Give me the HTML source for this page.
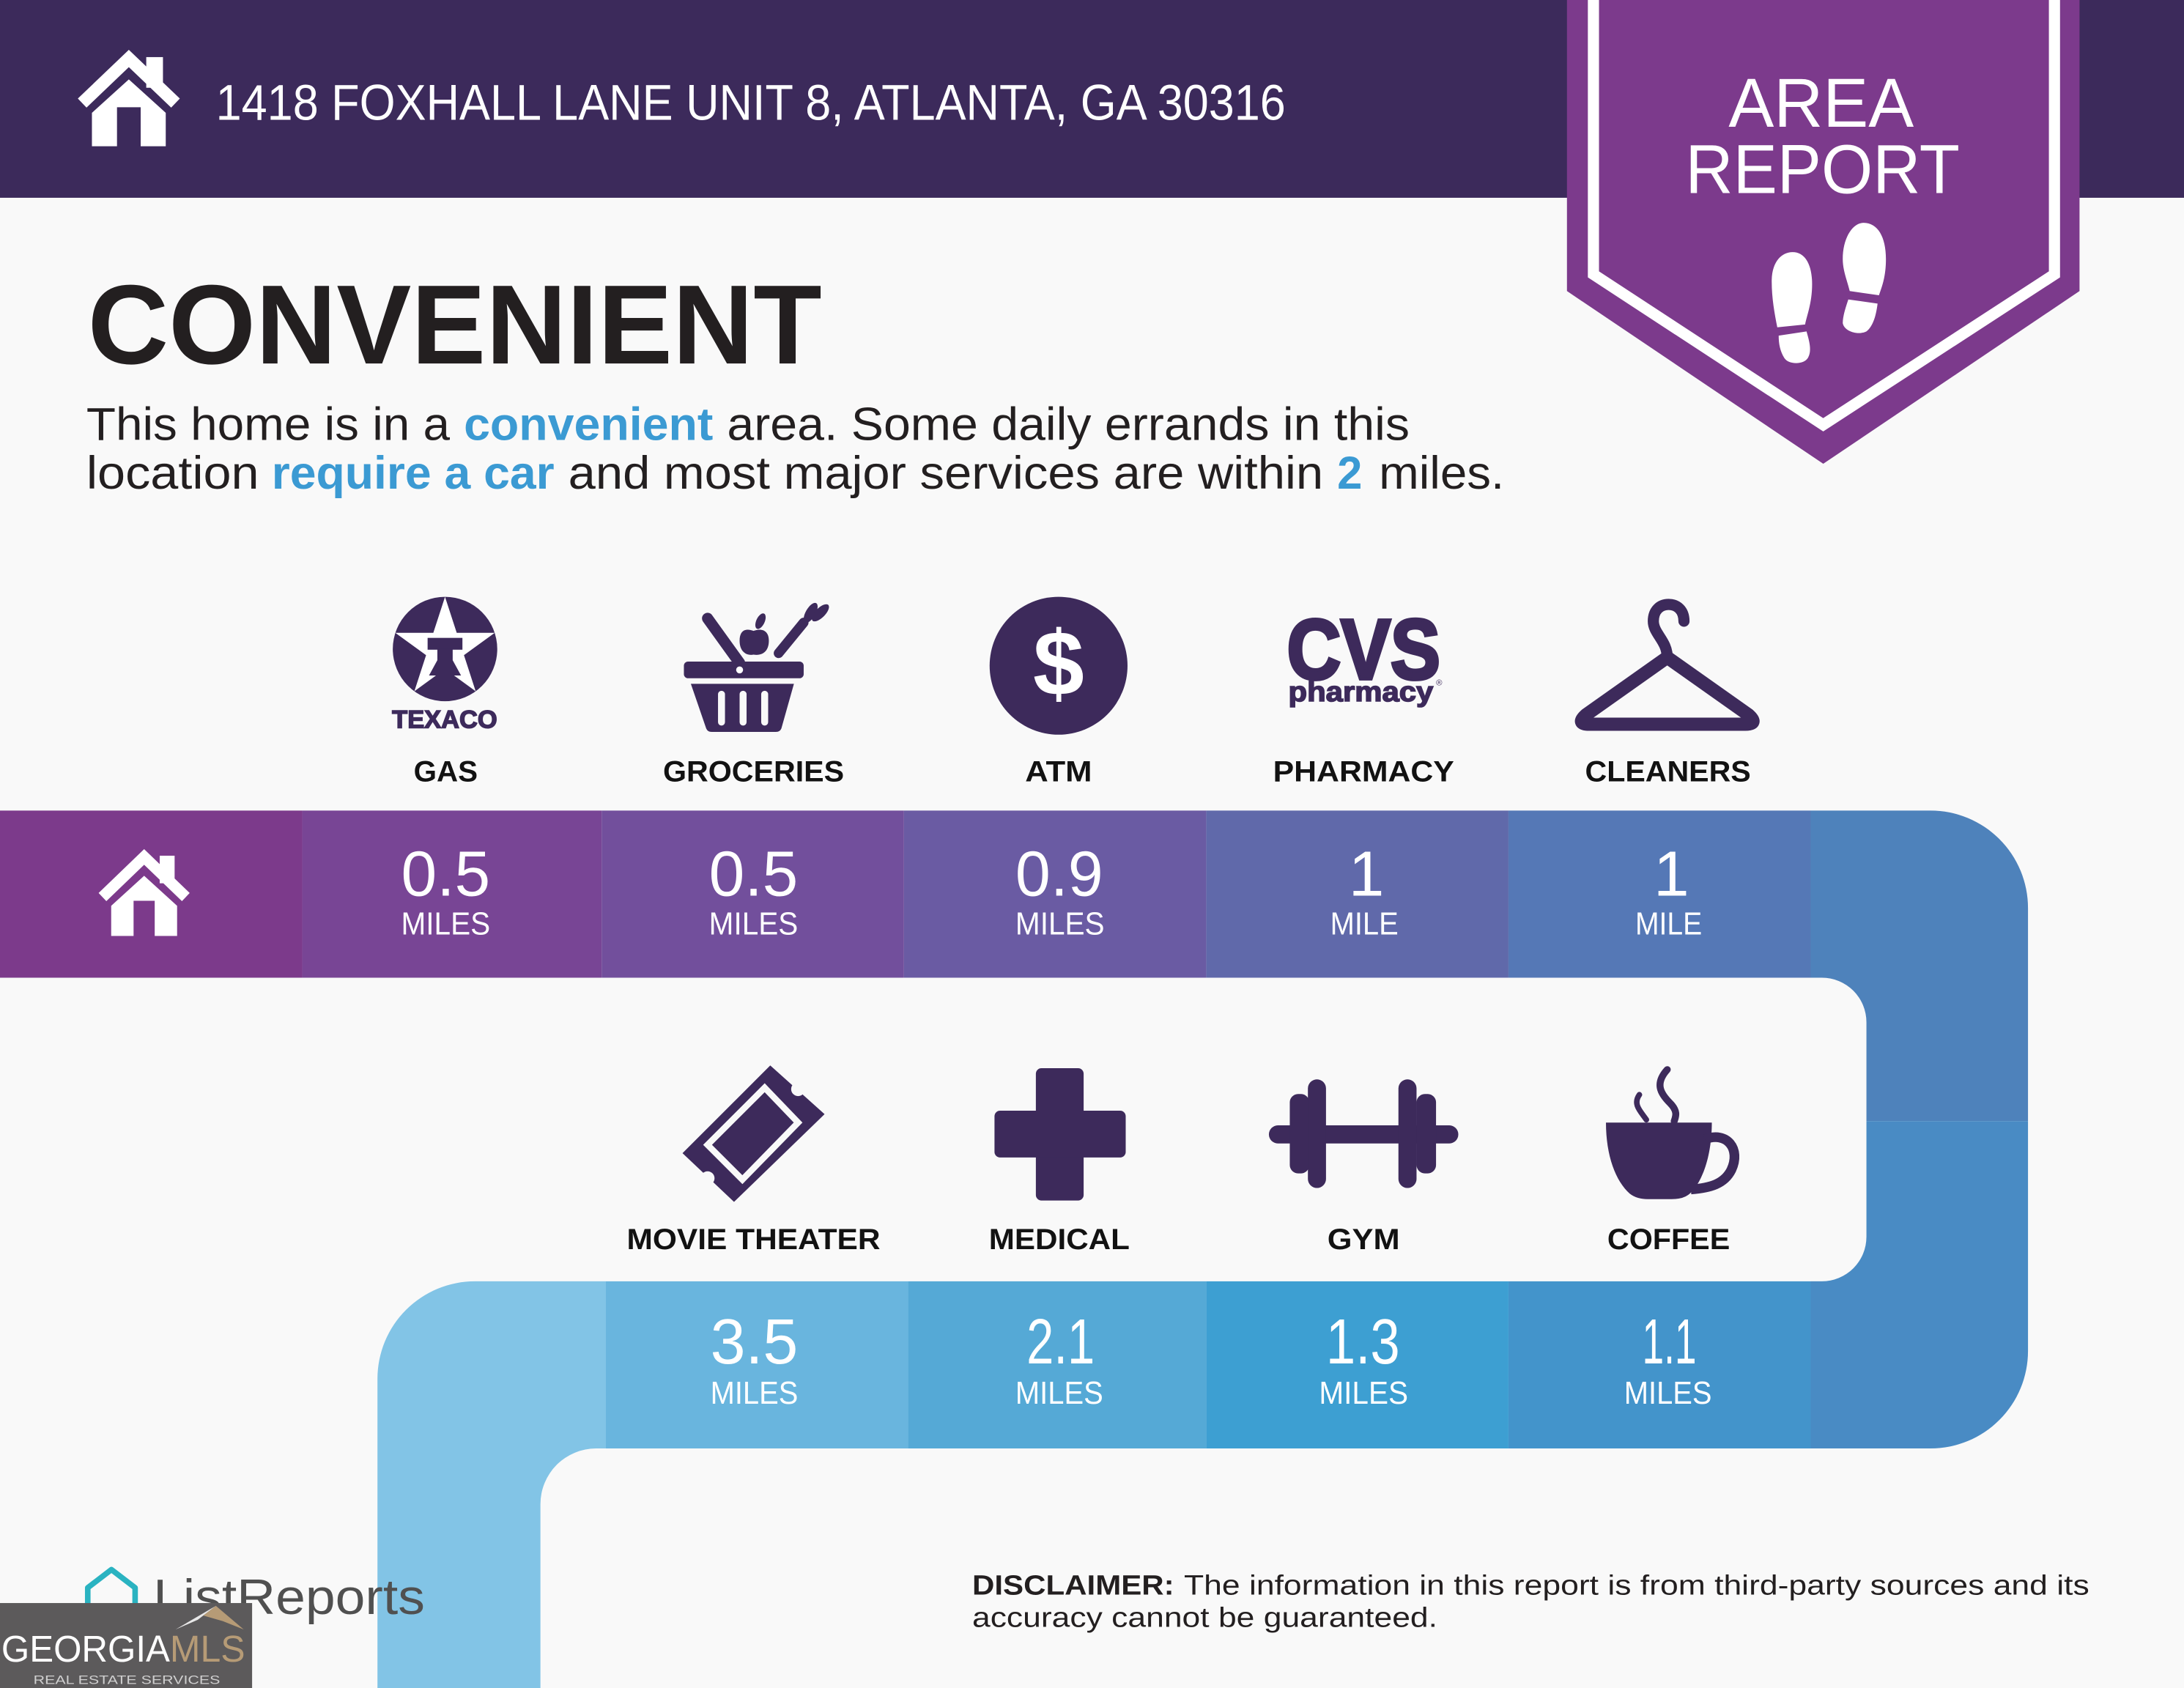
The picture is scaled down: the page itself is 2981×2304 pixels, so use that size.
<!DOCTYPE html>
<html><head><meta charset="utf-8"><style>
html,body{margin:0;padding:0;background:#f9f9f9;overflow:hidden;}
svg{display:block}
</style></head><body>
<svg xmlns="http://www.w3.org/2000/svg" width="2981" height="2304" viewBox="0 0 1568 1212" preserveAspectRatio="none" font-family="'Liberation Sans', sans-serif">
<defs>
<g id="house" fill="#fff">
<rect x="50" y="6" width="12" height="22"/>
<polyline points="4,39 37.5,7 71,39" fill="none" stroke="#fff" stroke-width="9"/>
<path d="M11,46 L37.5,22 L64,46 L64,70 L46,70 L46,42 L29,42 L29,70 L11,70 Z"/>
</g>
</defs>
<rect width="1568" height="1212" fill="#f9f9f9"/>
<!-- header -->
<rect width="1568" height="142" fill="#3c2a5b"/>
<use href="#house" transform="translate(55,35)"/>
<text x="155" y="86" font-size="36" fill="#fff" textLength="768" lengthAdjust="spacingAndGlyphs">1418 FOXHALL LANE UNIT 8, ATLANTA, GA 30316</text>

<!-- ribbon -->
<polygon points="1125,0 1493,0 1493,209 1309,333 1125,209" fill="#7c3a8c"/>
<polyline points="1144,-5 1144,197 1309,305 1475,197 1475,-5" fill="none" stroke="#fff" stroke-width="8"/>
<text x="1241" y="91" font-size="50" fill="#fff" textLength="133" lengthAdjust="spacingAndGlyphs">AREA</text>
<text x="1210" y="138.5" font-size="50" fill="#fff" textLength="197" lengthAdjust="spacingAndGlyphs">REPORT</text>
<g fill="#fff">
<path d="M1272,202 C1272,188 1279,181 1287,181 C1296,181 1301,190 1301,204 C1301,218 1297,227 1296,233 L1276,235 C1274,225 1272,214 1272,202 Z"/>
<path d="M1277,241 L1297,238 C1299,245 1301,252 1298,257 C1295,262 1284,262 1281,257 C1278,252 1277,247 1277,241 Z"/>
<path d="M1323,186 C1323,171 1330,160 1338,160 C1348,160 1354,170 1354,186 C1354,199 1351,206 1349,212 L1328,209 C1326,201 1323,194 1323,186 Z"/>
<path d="M1327,215 L1348,218 C1347,226 1345,234 1340,238 C1334,241 1324,238 1323,232 C1323,227 1325,221 1327,215 Z"/>
</g>

<!-- title & paragraph -->
<text x="63" y="261" font-size="81" font-weight="bold" fill="#231f20" textLength="527" lengthAdjust="spacingAndGlyphs">CONVENIENT</text>
<g font-size="33" fill="#231f20">
<text x="62" y="316" textLength="261" lengthAdjust="spacingAndGlyphs">This home is in a</text>
<text x="333" y="316" fill="#3b9ad3" font-weight="bold" textLength="179" lengthAdjust="spacingAndGlyphs">convenient</text>
<text x="522" y="316" textLength="490" lengthAdjust="spacingAndGlyphs">area. Some daily errands in this</text>
<text x="62" y="351" textLength="124" lengthAdjust="spacingAndGlyphs">location</text>
<text x="195" y="351" fill="#3b9ad3" font-weight="bold" textLength="203" lengthAdjust="spacingAndGlyphs">require a car</text>
<text x="408" y="351" textLength="542" lengthAdjust="spacingAndGlyphs">and most major services are within</text>
<text x="960" y="351" fill="#3b9ad3" font-weight="bold" textLength="18" lengthAdjust="spacingAndGlyphs">2</text>
<text x="990" y="351" textLength="90" lengthAdjust="spacingAndGlyphs">miles.</text>
</g>

<!-- row 1 icons -->
<g fill="#3d2a5b">
<circle cx="319.5" cy="466" r="37.5"/>
<polygon fill="#fff" points="319.5,428.5 327.9,454.4 355.2,454.4 333.1,470.4 341.5,496.3 319.5,480.3 297.5,496.3 305.9,470.4 283.8,454.4 311.1,454.4"/>
<rect x="307" y="458" width="25" height="8.5"/>
<polygon points="314,466 325,466 325,474 331,485 308,485 314,474"/>
<text x="281.5" y="522.5" font-size="18" font-weight="bold" stroke="#3d2a5b" stroke-width="0.8" textLength="75.5" lengthAdjust="spacingAndGlyphs">TEXACO</text>

<!-- groceries -->
<line x1="508" y1="444" x2="531" y2="476" stroke="#3d2a5b" stroke-width="8" stroke-linecap="round"/>
<path d="M531,460 C531,452 536,451 541,453 C546,451 552,452 552,460 C552,468 547,471 541,470 C536,471 531,468 531,460 Z"/>
<ellipse cx="546" cy="446" rx="3" ry="6" transform="rotate(25 546 446)"/>
<line x1="559" y1="469" x2="577" y2="447" stroke="#3d2a5b" stroke-width="7" stroke-linecap="round"/>
<ellipse cx="582" cy="440" rx="3.5" ry="8" transform="rotate(30 582 440)"/>
<ellipse cx="589" cy="440" rx="3.5" ry="8" transform="rotate(45 589 440)"/>
<rect x="491" y="475" width="86" height="12" rx="3"/>
<circle cx="531" cy="481" r="2.5" fill="#fff"/>
<path d="M496,491 L570,491 L561,523 Q560,525.5 557,525.5 L511,525.5 Q508,525.5 507,523 Z"/>
<g fill="#f9f9f9">
<rect x="515.5" y="496" width="5" height="25" rx="2.5"/>
<rect x="531" y="496" width="5" height="25" rx="2.5"/>
<rect x="546.5" y="496" width="5" height="25" rx="2.5"/>
</g>

<!-- ATM -->
<circle cx="760" cy="478" r="49.5"/>
<text x="760" y="499" font-size="66" font-weight="bold" fill="#fff" text-anchor="middle">$</text>

<!-- CVS -->
<text x="924" y="487.5" font-size="61" font-weight="bold" stroke="#3d2a5b" stroke-width="2.5" textLength="110" lengthAdjust="spacingAndGlyphs">CVS</text>
<text x="925" y="503.5" font-size="20" font-weight="bold" stroke="#3d2a5b" stroke-width="0.8" textLength="104" lengthAdjust="spacingAndGlyphs">pharmacy</text>
<text x="1031" y="492" font-size="6">®</text>

<!-- hanger -->
<path d="M1197,472 C1197,460 1187,455 1187,446 C1187,438 1192,434 1198,434 C1204,434 1209,438 1209,446" fill="none" stroke="#3d2a5b" stroke-width="8" stroke-linecap="round"/>
<path d="M1197,472 L1139,513 Q1131,520 1141,520 L1253,520 Q1263,520 1255,513 Z" fill="none" stroke="#3d2a5b" stroke-width="9.5" stroke-linejoin="round"/>
</g>

<!-- row 1 labels -->
<g font-size="21" font-weight="bold" fill="#121212">
<text x="297" y="561" textLength="46" lengthAdjust="spacingAndGlyphs">GAS</text>
<text x="476" y="561" textLength="130" lengthAdjust="spacingAndGlyphs">GROCERIES</text>
<text x="736" y="561" textLength="48" lengthAdjust="spacingAndGlyphs">ATM</text>
<text x="914" y="561" textLength="130" lengthAdjust="spacingAndGlyphs">PHARMACY</text>
<text x="1138" y="561" textLength="119" lengthAdjust="spacingAndGlyphs">CLEANERS</text>
</g>

<!-- bands row 1 -->
<rect x="0" y="582" width="217" height="120" fill="#7c3a8b"/>
<rect x="217" y="582" width="215" height="120" fill="#784595"/>
<rect x="432" y="582" width="217" height="120" fill="#724f9c"/>
<rect x="649" y="582" width="217" height="120" fill="#6a5ba3"/>
<rect x="866" y="582" width="217" height="120" fill="#6069aa"/>
<rect x="1083" y="582" width="217" height="120" fill="#5578b6"/>
<path d="M1300,582 L1386,582 A70,70 0 0 1 1456,652 L1456,805 L1340,805 L1340,734 A32,32 0 0 0 1308,702 L1300,702 Z" fill="#4e82bb"/>
<path d="M1340,805 L1456,805 L1456,970 A70,70 0 0 1 1386,1040 L1300,1040 L1300,920 L1308,920 A32,32 0 0 0 1340,888 Z" fill="#498bc4"/>
<!-- bands row 2 -->
<rect x="1083" y="920" width="217" height="120" fill="#4394cb"/>
<rect x="866" y="920" width="217" height="120" fill="#3d9fd2"/>
<rect x="652" y="920" width="214" height="120" fill="#55a9d6"/>
<rect x="435" y="920" width="217" height="120" fill="#69b5de"/>
<path d="M435,920 L435,1040 L428,1040 A40,40 0 0 0 388,1080 L388,1212 L271,1212 L271,990 A70,70 0 0 1 341,920 Z" fill="#82c4e6"/>

<use href="#house" transform="translate(70,609) scale(0.893,0.9)"/>

<!-- values -->
<g fill="#fff" font-size="46">
<text x="288" y="643" textLength="64" lengthAdjust="spacingAndGlyphs">0.5</text>
<text x="509" y="643" textLength="64" lengthAdjust="spacingAndGlyphs">0.5</text>
<text x="729" y="643" textLength="63" lengthAdjust="spacingAndGlyphs">0.9</text>
<text x="981" y="643" text-anchor="middle">1</text>
<text x="1200" y="643" text-anchor="middle">1</text>
<text x="510" y="979" textLength="63" lengthAdjust="spacingAndGlyphs">3.5</text>
<text x="737" y="979" textLength="49" lengthAdjust="spacingAndGlyphs">2.1</text>
<text x="952" y="979" textLength="53" lengthAdjust="spacingAndGlyphs">1.3</text>
<text x="1179" y="979" textLength="39" lengthAdjust="spacingAndGlyphs">1.1</text>
</g>
<g fill="#fff" font-size="23">
<text x="288" y="671" textLength="64" lengthAdjust="spacingAndGlyphs">MILES</text>
<text x="509" y="671" textLength="64" lengthAdjust="spacingAndGlyphs">MILES</text>
<text x="729" y="671" textLength="64" lengthAdjust="spacingAndGlyphs">MILES</text>
<text x="955" y="671" textLength="49" lengthAdjust="spacingAndGlyphs">MILE</text>
<text x="1174" y="671" textLength="48" lengthAdjust="spacingAndGlyphs">MILE</text>
<text x="510" y="1008" textLength="63" lengthAdjust="spacingAndGlyphs">MILES</text>
<text x="729" y="1008" textLength="63" lengthAdjust="spacingAndGlyphs">MILES</text>
<text x="947" y="1008" textLength="64" lengthAdjust="spacingAndGlyphs">MILES</text>
<text x="1166" y="1008" textLength="63" lengthAdjust="spacingAndGlyphs">MILES</text>
</g>

<!-- row 2 icons -->
<g fill="#3d2a5b">
<polygon points="553,765 592,800 527,863 490,828"/>
<circle cx="573" cy="782" r="5" fill="#f9f9f9"/>
<circle cx="508" cy="846" r="5" fill="#f9f9f9"/>
<polygon points="549,781 573,806 533,847 508,822" fill="none" stroke="#f9f9f9" stroke-width="4.5"/>

<rect x="743.7" y="767" width="34.3" height="95" rx="4"/>
<rect x="714" y="797.5" width="94.2" height="33.6" rx="4"/>

<rect x="911" y="808" width="136" height="13" rx="6.5"/>
<rect x="926" y="785.5" width="14" height="57" rx="6"/>
<rect x="939" y="775" width="13" height="78" rx="6.5"/>
<rect x="1004" y="775" width="13" height="78" rx="6.5"/>
<rect x="1017" y="785.5" width="14" height="57" rx="6"/>

<path d="M1153,806 L1229,806 C1229,830 1222,850 1212,858 Q1208,861 1200,861 L1183,861 Q1175,861 1170,857 C1160,848 1153,830 1153,806 Z"/>
<path d="M1224,818 C1240,812 1250,825 1243,840 C1238,850 1228,853 1214,854" fill="none" stroke="#3d2a5b" stroke-width="7"/>
<path d="M1197,768 C1188,778 1192,785 1199,792 C1205,798 1203,802 1202,805" fill="none" stroke="#3d2a5b" stroke-width="5" stroke-linecap="round"/>
<path d="M1177,786 C1172,793 1178,798 1182,804" fill="none" stroke="#3d2a5b" stroke-width="4" stroke-linecap="round"/>
</g>

<g font-size="21" font-weight="bold" fill="#121212">
<text x="450" y="897" textLength="182" lengthAdjust="spacingAndGlyphs">MOVIE THEATER</text>
<text x="710" y="897" textLength="101" lengthAdjust="spacingAndGlyphs">MEDICAL</text>
<text x="953" y="897" textLength="52" lengthAdjust="spacingAndGlyphs">GYM</text>
<text x="1154" y="897" textLength="88" lengthAdjust="spacingAndGlyphs">COFFEE</text>
</g>

<!-- footer -->
<path d="M63,1153 L63,1140 L80,1127 L97,1140 L97,1153" fill="none" stroke="#2ab3c1" stroke-width="4" stroke-linejoin="round"/>
<text x="110" y="1159" font-size="35.5" fill="#505050" textLength="195" lengthAdjust="spacingAndGlyphs">ListReports</text>
<rect x="0" y="1151" width="181" height="61" fill="#5c5a5b"/>
<polygon points="126,1170 155,1153 142,1163" fill="#e8e8e8"/>
<polygon points="155,1153 175,1170 160,1164 146,1160" fill="#b69b76"/>
<text x="1" y="1193" font-size="27" fill="#fff" textLength="121" lengthAdjust="spacingAndGlyphs">GEORGIA</text>
<text x="122" y="1193" font-size="27" fill="#b69b76" textLength="54" lengthAdjust="spacingAndGlyphs">MLS</text>
<text x="24" y="1209" font-size="8.5" fill="#cfcfcf" textLength="134" lengthAdjust="spacingAndGlyphs">REAL ESTATE SERVICES</text>

<g font-size="20" fill="#231f20">
<text x="698" y="1145" font-weight="bold" textLength="145" lengthAdjust="spacingAndGlyphs">DISCLAIMER:</text>
<text x="850" y="1145" textLength="650" lengthAdjust="spacingAndGlyphs">The information in this report is from third-party sources and its</text>
<text x="698" y="1168" textLength="334" lengthAdjust="spacingAndGlyphs">accuracy cannot be guaranteed.</text>
</g>
</svg>
</body></html>
